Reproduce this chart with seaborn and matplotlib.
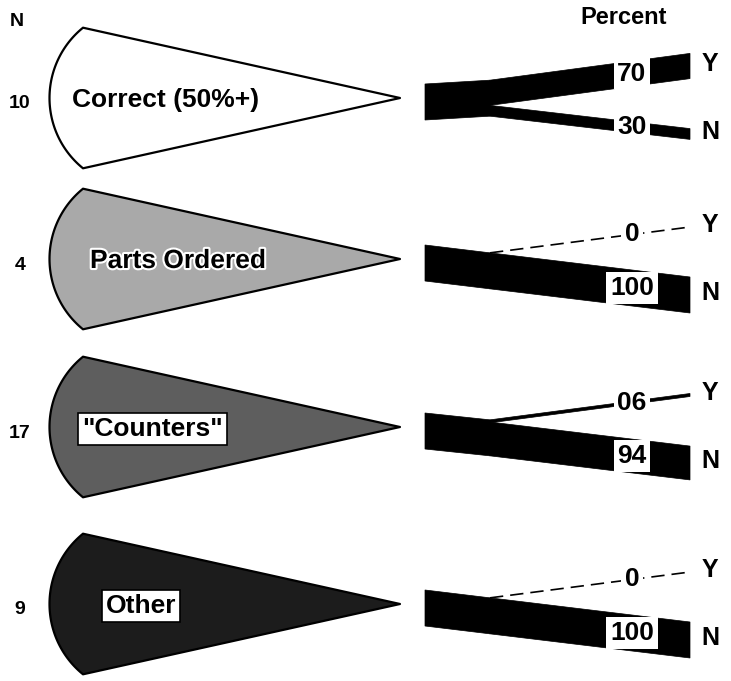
import numpy as np
import matplotlib
matplotlib.use("Agg")
import matplotlib.pyplot as plt
import matplotlib.patheffects as pe
from matplotlib.patches import Polygon
import seaborn as sns

# ── Data ───────────────────────────────────────────────────────────────────
categories = ["Correct (50%+)", "Parts Ordered", '"Counters"', "Other"]
n_counts = [10, 4, 17, 9]
pct_yes = [70, 0, 6, 0]
pct_no = [30, 100, 94, 100]

# ── Layout / style (pixel space, y grows downward) ────────────────────────
FIG_W, FIG_H = 731, 681
ROW_Y = [98, 259, 427, 604]
LABEL_X = [72, 90, 82, 106]
FILLS = ["white", "#a9a9a9", "#5e5e5e", "#1c1c1c"]
LABEL_STYLE = ["plain", "halo", "box", "box"]

TIP_X = 400
ARC_CX, ARC_R, ARC_T = 140, 90.5, 2.252

X0, XS, X2 = 425, 490, 690     # stem start, split point, branch end
BAND_H = 36                    # thickness of a 100% band
MIN_T = 3                      # thinnest visible band
STEM_OFF = 4
Y_END, N_END = -32, 36         # branch end offsets from row centre
NUM_X = 632
LETTER_X = 710
FONT = ["Liberation Sans", "DejaVu Sans"]


def num_label(v):
    return f"{v:02d}" if 0 < v < 10 else f"{v}"


def lerp(p, q, x):
    return p[1] + (q[1] - p[1]) * (x - p[0]) / (q[0] - p[0])


def draw_wedge(ax, cy, color):
    t = np.linspace(ARC_T, 2 * np.pi - ARC_T, 80)
    arc = np.column_stack([ARC_CX + ARC_R * np.cos(t), cy + ARC_R * np.sin(t)])
    pts = np.vstack([[TIP_X, cy], arc])
    ax.add_patch(Polygon(pts, closed=True, facecolor=color, edgecolor="black",
                         lw=1.6, joinstyle="round"))


def draw_branches(ax, cy, py, pn):
    ty, tn = py / 100 * BAND_H, pn / 100 * BAND_H
    c0 = cy + STEM_OFF
    top0, bot0 = c0 - BAND_H / 2, c0 + BAND_H / 2
    f = (XS - X0) / (X2 - X0)
    drift = (py * (cy + Y_END - c0) + pn * (cy + N_END - c0)) / 100 * f
    top_s, bot_s = top0 + drift, bot0 + drift

    # stem
    ax.add_patch(Polygon([(X0, top0), (XS, top_s), (XS, bot_s), (X0, bot0)],
                         closed=True, facecolor="black", edgecolor="black", lw=0.5))
    # N branch
    n_mid = cy + N_END
    ax.add_patch(Polygon([(XS, top_s + ty), (X2, n_mid - tn / 2),
                          (X2, n_mid + tn / 2), (XS, bot_s)],
                         closed=True, facecolor="black", edgecolor="black", lw=0.5))
    n_line = ((XS, top_s + ty + tn / 2), (X2, n_mid))

    # Y branch
    y_mid = cy + Y_END
    if py == 0:
        ax.plot([XS, X2], [top_s, y_mid], color="black", lw=1.2,
                dashes=(8, 4.2), solid_capstyle="butt")
        y_line = ((XS, top_s), (X2, y_mid))
    else:
        tv = max(ty, MIN_T)
        ax.add_patch(Polygon([(XS, top_s), (X2, y_mid - tv / 2),
                              (X2, y_mid + tv / 2), (XS, top_s + tv)],
                             closed=True, facecolor="black", edgecolor="black", lw=0.5))
        y_line = ((XS, top_s + tv / 2), (X2, y_mid))

    box = dict(boxstyle="square,pad=0.14", facecolor="white", edgecolor="none")
    for val, line in [(py, y_line), (pn, n_line)]:
        ax.text(NUM_X, lerp(line[0], line[1], NUM_X), num_label(val),
                ha="center", va="center", fontsize=19, fontweight="bold",
                bbox=box, zorder=5)

    ax.text(LETTER_X, cy - 34, "Y", ha="center", va="center", fontsize=18,
            fontweight="bold")
    ax.text(LETTER_X, cy + 34, "N", ha="center", va="center", fontsize=18,
            fontweight="bold")


sns.set_theme(style="white")
plt.rcParams["font.family"] = FONT
plt.rcParams["text.color"] = "black"

fig = plt.figure(figsize=(FIG_W / 100, FIG_H / 100), dpi=100)
ax = fig.add_axes([0, 0, 1, 1])
ax.set_xlim(0, FIG_W)
ax.set_ylim(FIG_H, 0)
ax.axis("off")

ax.text(17, 22, "N", ha="center", va="center", fontsize=14, fontweight="bold")
ax.text(624, 17, "Percent", ha="center", va="center", fontsize=17, fontweight="bold")

for i, (cat, n, py, pn) in enumerate(zip(categories, n_counts, pct_yes, pct_no)):
    cy = ROW_Y[i]
    draw_wedge(ax, cy, FILLS[i])
    ax.text(20, cy + 6, str(n), ha="center", va="center", fontsize=14,
            fontweight="bold")

    kw = dict(ha="left", va="center", fontsize=19, fontweight="bold", zorder=4)
    if LABEL_STYLE[i] == "halo":
        kw["path_effects"] = [pe.withStroke(linewidth=3, foreground="white")]
    elif LABEL_STYLE[i] == "box":
        kw["bbox"] = dict(boxstyle="square,pad=0.15", facecolor="white",
                          edgecolor="black", lw=1.2)
    ax.text(LABEL_X[i], cy + 2, cat, **kw)

    draw_branches(ax, cy, py, pn)

fig.savefig("out.png", dpi=100)
